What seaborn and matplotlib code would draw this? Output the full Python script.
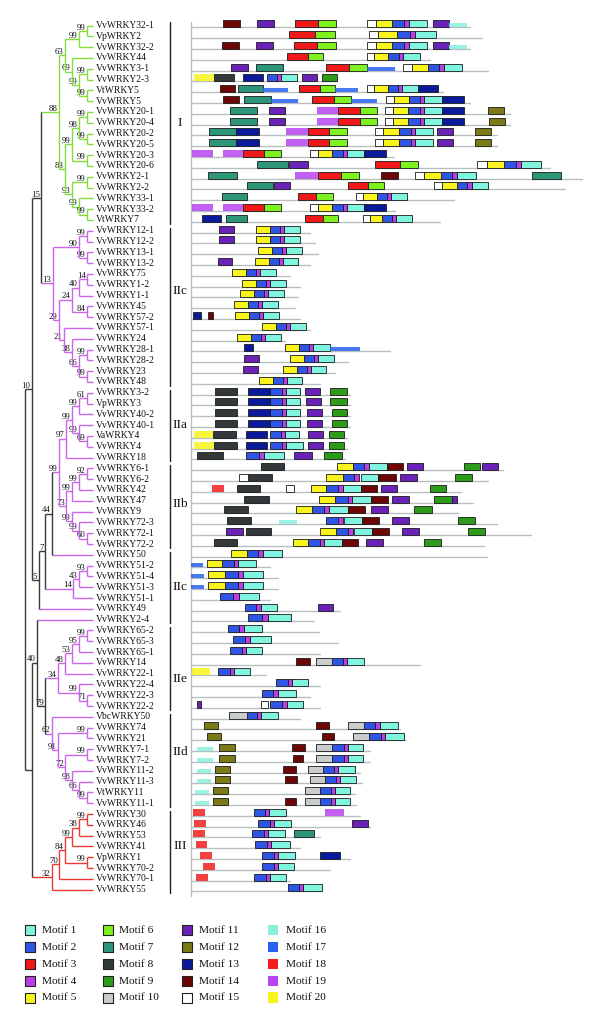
import matplotlib
matplotlib.use("Agg")
import matplotlib.pyplot as plt
import seaborn as sns
import numpy as np

# ---------------- data ----------------
GENES = ["VvWRKY32-1", "VpWRKY2", "VvWRKY32-2", "VvWRKY44", "VvWRKY3-1", "VvWRKY2-3", "VtWRKY5", "VvWRKY5",
         "VvWRKY20-1", "VvWRKY20-4", "VvWRKY20-2", "VvWRKY20-5", "VvWRKY20-3", "VvWRKY20-6", "VvWRKY2-1",
         "VvWRKY2-2", "VvWRKY33-1", "VvWRKY33-2", "VtWRKY7",
         "VvWRKY12-1", "VvWRKY12-2", "VvWRKY13-1", "VvWRKY13-2", "VvWRKY75", "VvWRKY1-2", "VvWRKY1-1",
         "VvWRKY45", "VvWRKY57-2", "VvWRKY57-1", "VvWRKY24", "VvWRKY28-1", "VvWRKY28-2", "VvWRKY23", "VvWRKY48",
         "VvWRKY3-2", "VpWRKY3", "VvWRKY40-2", "VvWRKY40-1", "VaWRKY4", "VvWRKY4", "VvWRKY18",
         "VvWRKY6-1", "VvWRKY6-2", "VvWRKY42", "VvWRKY47", "VvWRKY9", "VvWRKY72-3", "VvWRKY72-1", "VvWRKY72-2",
         "VvWRKY50", "VvWRKY51-2", "VvWRKY51-4", "VvWRKY51-3", "VvWRKY51-1", "VvWRKY49", "VvWRKY2-4",
         "VvWRKY65-2", "VvWRKY65-3", "VvWRKY65-1", "VvWRKY14", "VvWRKY22-1", "VvWRKY22-4", "VvWRKY22-3", "VvWRKY22-2",
         "VbcWRKY50", "VvWRKY74", "VvWRKY21", "VvWRKY7-1", "VvWRKY7-2", "VvWRKY11-2", "VvWRKY11-3", "VtWRKY11",
         "VvWRKY11-1",
         "VvWRKY30", "VvWRKY46", "VvWRKY53", "VvWRKY41", "VpWRKY1", "VvWRKY70-2", "VvWRKY70-1", "VvWRKY55"]

GROUP = ["I"] * 19 + ["II"] * 54 + ["III"] * 8

LENGTHS = [558, 582, 558, 478, 594, 292, 504, 558, 638, 638, 612, 612, 406, 718, 782, 748, 526, 408, 498,
           238, 248, 254, 238, 198, 218, 214, 208, 218, 238, 188, 398, 314, 288, 258,
           318, 318, 318, 318, 312, 312, 308,
           624, 594, 540, 564, 534, 612, 680, 586,
           592, 158, 174, 174, 158, 298, 246,
           256, 294, 258, 458, 150, 258, 238, 258,
           218, 418, 430, 358, 358, 338, 342, 328, 330,
           338, 358, 258, 218, 318, 278, 198, 262]

MOTIFS = [
    [(14, 64, 98), (11, 132, 166), (3, 208, 254), (6, 254, 290), (15, 352, 370), (5, 370, 402), (2, 402, 426), (4, 426, 436), (1, 436, 472), (11, 484, 516), (16, 516, 552)],
    [(3, 196, 248), (6, 248, 288), (15, 356, 374), (5, 374, 412), (2, 412, 438), (4, 438, 448), (1, 448, 490)],
    [(14, 62, 96), (11, 130, 164), (3, 206, 252), (6, 252, 290), (15, 352, 370), (5, 370, 402), (2, 402, 426), (4, 426, 436), (1, 436, 472), (11, 484, 516), (16, 516, 552)],
    [(3, 192, 234), (6, 234, 264), (15, 352, 366), (5, 366, 394), (2, 394, 416), (4, 416, 424), (1, 424, 458)],
    [(11, 80, 114), (7, 130, 184), (3, 270, 316), (6, 316, 352), (17, 352, 408), (15, 424, 442), (5, 442, 474), (2, 474, 496), (4, 496, 506), (1, 506, 542)],
    [(20, 6, 46), (8, 46, 86), (13, 104, 144), (2, 152, 172), (4, 172, 180), (1, 180, 212), (11, 222, 252), (9, 262, 292)],
    [(14, 58, 88), (7, 94, 144), (17, 144, 194), (3, 216, 258), (6, 258, 288), (17, 288, 334), (15, 352, 366), (5, 366, 394), (2, 394, 414), (4, 414, 422), (1, 422, 454), (13, 454, 494)],
    [(14, 64, 96), (7, 106, 160), (17, 160, 214), (3, 242, 286), (6, 286, 320), (17, 320, 372), (15, 390, 406), (5, 406, 436), (2, 436, 458), (4, 458, 466), (1, 466, 502), (13, 502, 546)],
    [(7, 78, 132), (11, 156, 188), (19, 252, 294), (3, 294, 338), (6, 338, 372), (15, 388, 404), (5, 404, 434), (2, 434, 458), (4, 458, 466), (1, 466, 502), (13, 502, 546), (12, 594, 626)],
    [(7, 78, 132), (11, 156, 188), (19, 252, 294), (3, 294, 338), (6, 338, 372), (15, 388, 404), (5, 404, 434), (2, 434, 458), (4, 458, 466), (1, 466, 502), (13, 502, 546), (12, 596, 628)],
    [(7, 36, 90), (13, 90, 136), (19, 190, 234), (3, 234, 276), (6, 276, 312), (15, 368, 384), (5, 384, 416), (2, 416, 440), (4, 440, 448), (1, 448, 484), (11, 492, 524), (12, 568, 600)],
    [(7, 36, 90), (13, 90, 136), (19, 190, 234), (3, 234, 276), (6, 276, 312), (15, 368, 384), (5, 384, 416), (2, 416, 440), (4, 440, 448), (1, 448, 484), (11, 492, 524), (12, 568, 600)],
    [(19, 2, 44), (19, 64, 104), (3, 104, 146), (6, 146, 180), (15, 238, 254), (5, 254, 282), (2, 282, 304), (4, 304, 312), (1, 312, 346), (13, 346, 390)],
    [(7, 132, 194), (11, 196, 234), (3, 368, 418), (6, 418, 454), (15, 572, 592), (5, 592, 626), (2, 626, 650), (4, 650, 660), (1, 660, 700)],
    [(7, 34, 92), (19, 208, 254), (3, 254, 300), (6, 300, 336), (14, 380, 414), (15, 448, 466), (5, 466, 500), (2, 500, 522), (4, 522, 532), (1, 532, 570), (7, 682, 740)],
    [(7, 112, 164), (11, 166, 198), (3, 314, 354), (6, 354, 386), (15, 486, 502), (5, 502, 532), (2, 532, 552), (4, 552, 562), (1, 562, 594)],
    [(7, 62, 112), (3, 214, 250), (6, 250, 284), (15, 330, 344), (5, 344, 372), (2, 372, 392), (4, 392, 400), (1, 400, 432)],
    [(19, 2, 44), (19, 64, 104), (3, 104, 146), (6, 146, 180), (15, 238, 254), (5, 254, 282), (2, 282, 304), (4, 304, 312), (1, 312, 346), (13, 346, 390)],
    [(13, 22, 60), (7, 70, 112), (3, 228, 264), (6, 264, 294), (15, 344, 358), (5, 358, 382), (2, 382, 402), (4, 402, 410), (1, 410, 442)],
    # IIc
    [(11, 56, 86), (5, 130, 158), (2, 158, 178), (4, 178, 186), (1, 186, 218)],
    [(11, 56, 86), (5, 130, 158), (2, 158, 178), (4, 178, 186), (1, 186, 218)],
    [(5, 134, 162), (2, 162, 182), (4, 182, 190), (1, 190, 222)],
    [(11, 54, 82), (5, 128, 156), (2, 156, 176), (4, 176, 184), (1, 184, 214)],
    [(5, 82, 110), (2, 110, 130), (4, 130, 138), (1, 138, 170)],
    [(5, 102, 130), (2, 130, 150), (4, 150, 158), (1, 158, 190)],
    [(5, 98, 126), (2, 126, 146), (4, 146, 154), (1, 154, 186)],
    [(5, 86, 114), (2, 114, 134), (4, 134, 142), (1, 142, 174)],
    [(13, 4, 20), (14, 34, 44), (5, 88, 116), (2, 116, 136), (4, 136, 144), (1, 144, 176)],
    [(5, 142, 170), (2, 170, 190), (4, 190, 198), (1, 198, 230)],
    [(5, 92, 120), (2, 120, 140), (4, 140, 148), (1, 148, 180)],
    [(13, 106, 124), (5, 188, 216), (2, 216, 236), (4, 236, 244), (1, 244, 278), (17, 278, 338)],
    [(11, 106, 136), (5, 198, 226), (2, 226, 246), (4, 246, 254), (1, 254, 286)],
    [(11, 104, 134), (5, 184, 212), (2, 212, 232), (4, 232, 240), (1, 240, 270)],
    [(5, 136, 164), (2, 164, 184), (4, 184, 192), (1, 192, 222)],
    # IIa
    [(8, 48, 92), (13, 114, 158), (2, 158, 182), (4, 182, 190), (1, 190, 218), (11, 228, 258), (9, 278, 312)],
    [(8, 48, 92), (13, 114, 158), (2, 158, 182), (4, 182, 190), (1, 190, 218), (11, 230, 260), (9, 278, 312)],
    [(8, 48, 92), (13, 114, 158), (2, 158, 182), (4, 182, 190), (1, 190, 218), (11, 232, 262), (9, 282, 312)],
    [(8, 48, 92), (13, 114, 158), (2, 158, 182), (4, 182, 190), (1, 190, 218), (11, 232, 262), (9, 282, 312)],
    [(20, 6, 44), (8, 44, 90), (13, 110, 152), (2, 158, 180), (4, 180, 188), (1, 188, 216), (11, 234, 264), (9, 276, 306)],
    [(20, 6, 46), (8, 46, 92), (13, 110, 152), (2, 158, 182), (4, 182, 190), (1, 190, 224), (11, 234, 264), (9, 276, 306)],
    [(8, 12, 64), (2, 110, 136), (4, 136, 146), (1, 146, 186), (11, 206, 242), (9, 266, 302)],
    # IIb
    [(8, 140, 186), (5, 292, 324), (2, 324, 346), (4, 346, 356), (1, 356, 392), (14, 392, 424), (11, 432, 464), (9, 546, 578), (11, 582, 614)],
    [(15, 96, 114), (8, 114, 162), (5, 270, 304), (2, 304, 326), (4, 326, 336), (1, 340, 374), (14, 374, 410), (11, 418, 452), (9, 528, 562)],
    [(18, 42, 66), (8, 92, 138), (15, 190, 206), (5, 240, 270), (2, 270, 294), (4, 294, 304), (1, 304, 340), (14, 340, 372), (11, 380, 412), (9, 478, 510)],
    [(8, 106, 156), (5, 256, 288), (2, 288, 314), (4, 314, 322), (1, 322, 360), (14, 360, 394), (11, 402, 436), (9, 486, 522), (11, 522, 532)],
    [(8, 66, 114), (5, 210, 242), (2, 242, 266), (4, 266, 276), (1, 276, 314), (14, 314, 348), (11, 360, 394), (9, 446, 482)],
    [(8, 72, 120), (16, 176, 212), (2, 270, 294), (4, 294, 304), (1, 306, 342), (14, 342, 376), (11, 402, 436), (9, 534, 568)],
    [(11, 70, 104), (8, 110, 160), (5, 258, 290), (2, 290, 314), (4, 314, 324), (1, 326, 362), (14, 362, 396), (11, 422, 456), (9, 554, 588)],
    [(8, 46, 92), (5, 204, 234), (2, 234, 258), (4, 258, 266), (1, 266, 302), (14, 302, 334), (11, 350, 384), (9, 466, 500)],
    # IIc (second)
    [(5, 80, 112), (2, 112, 134), (4, 134, 144), (1, 144, 182)],
    [(17, 0, 24), (5, 32, 62), (2, 62, 86), (4, 86, 94), (1, 94, 130)],
    [(17, 0, 26), (5, 34, 68), (2, 68, 94), (4, 94, 104), (1, 104, 144)],
    [(17, 0, 26), (5, 34, 68), (2, 68, 94), (4, 94, 104), (1, 104, 144)],
    [(2, 58, 84), (4, 84, 96), (1, 96, 136)],
    [(2, 108, 130), (4, 130, 140), (1, 140, 172), (11, 254, 284)],
    [(2, 114, 142), (4, 142, 154), (1, 154, 200)],
    # IIe
    [(2, 74, 96), (4, 96, 106), (1, 106, 142)],
    [(2, 84, 108), (4, 108, 118), (1, 118, 160)],
    [(2, 78, 102), (4, 102, 110), (1, 110, 142)],
    [(14, 210, 238), (10, 250, 282), (2, 282, 304), (4, 304, 312), (1, 312, 346)],
    [(20, 2, 38), (2, 54, 78), (4, 78, 86), (1, 86, 118)],
    [(2, 170, 194), (4, 194, 202), (1, 202, 234)],
    [(2, 142, 164), (4, 164, 174), (1, 174, 210)],
    [(11, 12, 20), (15, 140, 154), (2, 158, 182), (4, 182, 192), (1, 192, 224)],
    # IId
    [(10, 76, 112), (2, 112, 132), (4, 132, 140), (1, 140, 174)],
    [(12, 26, 54), (14, 250, 276), (10, 314, 346), (2, 346, 368), (4, 368, 378), (1, 378, 414)],
    [(12, 32, 60), (14, 262, 286), (10, 324, 356), (2, 356, 380), (4, 380, 388), (1, 388, 426)],
    [(16, 12, 44), (12, 56, 88), (14, 202, 228), (10, 250, 282), (2, 282, 306), (4, 306, 314), (1, 314, 344)],
    [(16, 12, 44), (12, 56, 88), (14, 204, 224), (10, 250, 282), (2, 282, 306), (4, 306, 314), (1, 314, 344)],
    [(16, 12, 40), (12, 48, 78), (14, 184, 210), (10, 234, 264), (2, 264, 286), (4, 286, 294), (1, 294, 328)],
    [(16, 12, 40), (12, 48, 78), (14, 188, 212), (10, 238, 268), (2, 268, 290), (4, 290, 298), (1, 298, 330)],
    [(16, 8, 36), (12, 44, 74), (10, 228, 258), (2, 258, 280), (4, 280, 288), (1, 288, 318)],
    [(16, 8, 36), (12, 44, 74), (14, 188, 210), (10, 228, 258), (2, 258, 280), (4, 280, 288), (1, 288, 318)],
    # III
    [(18, 4, 28), (2, 126, 148), (4, 148, 156), (1, 156, 190), (19, 268, 306)],
    [(18, 6, 30), (2, 134, 158), (4, 158, 166), (1, 166, 200), (11, 322, 354)],
    [(18, 4, 28), (2, 122, 146), (4, 146, 154), (1, 154, 188), (7, 206, 246)],
    [(18, 10, 32), (2, 128, 152), (4, 152, 160), (1, 160, 198)],
    [(18, 18, 42), (2, 142, 166), (4, 166, 174), (1, 174, 208), (13, 258, 298)],
    [(18, 24, 48), (2, 142, 166), (4, 166, 174), (1, 174, 206)],
    [(18, 10, 34), (2, 126, 150), (4, 150, 158), (1, 158, 190)],
    [(2, 194, 216), (4, 216, 224), (1, 224, 262)],
]

MOTIF_COLORS = {1: "#7ff5df", 2: "#2f55e6", 3: "#f01818", 4: "#bb3ee8", 5: "#f8f41c",
                6: "#7ef21e", 7: "#2e9678", 8: "#33393b", 9: "#2e9a1a", 10: "#c8cccc",
                11: "#6a22b8", 12: "#7a7a16", 13: "#0b1a9a", 14: "#6e0606", 15: "#ffffff",
                16: "#8af0dc", 17: "#2860f0", 18: "#f21e1e", 19: "#b844f0", 20: "#f6f41a"}

SUBGROUPS = ["I", "IIc", "IIa", "IIb", "IIc", "IIe", "IId", "III"]
SUBGROUP_FIRST = [0, 19, 34, 41, 49, 56, 64, 73]
SUBGROUP_LAST = [18, 33, 40, 48, 55, 63, 72, 80]
SUBGROUP_LABEL_ROW = [9.0, 24.6, 37.0, 44.3, 52.0, 60.5, 67.3, 76.0]

GROUP_COLORS = {"I": "#80dd3c", "II": "#c865ea", "III": "#ea3a32"}
BACKBONE = "#3a3a3a"


class N:
    def __init__(self, bs, depth, *children, clade=False):
        self.bs, self.depth, self.children, self.clade = bs, depth, list(children), clade


TIP = 68
gI = N(88, 34,
       N(63, 40,
         N(99, 54, N(99, 62, "VvWRKY32-1", "VpWRKY2"), "VvWRKY32-2"),
         N(69, 47, "VvWRKY44",
           N(99, 54, N(99, 62, "VvWRKY3-1", "VvWRKY2-3"), N(99, 62, "VtWRKY5", "VvWRKY5")))),
       N(83, 40,
         N(99, 47, N(98, 54, N(99, 62, "VvWRKY20-1", "VvWRKY20-4"), N(99, 62, "VvWRKY20-2", "VvWRKY20-5")),
           N(99, 62, "VvWRKY20-3", "VvWRKY20-6")),
         N(93, 47, N(99, 62, "VvWRKY2-1", "VvWRKY2-2"),
           N(99, 54, "VvWRKY33-1", N(99, 62, "VvWRKY33-2", "VtWRKY7")))),
       clade=True)
c13 = N(13, 27.5,
        N(90, 54, N(99, 62, "VvWRKY12-1", "VvWRKY12-2"), N(99, 62, "VvWRKY13-1", "VvWRKY13-2")),
        N(29, 34,
          N(24, 47, N(40, 54, N(14, 62, "VvWRKY75", "VvWRKY1-2"), "VvWRKY1-1"), N(84, 62, "VvWRKY45", "VvWRKY57-2")),
          N(21, 39, "VvWRKY57-1",
            N(38, 47, "VvWRKY24",
              N(66, 54, N(99, 62, "VvWRKY28-1", "VvWRKY28-2"), N(99, 62, "VvWRKY23", "VvWRKY48"))))),
        clade=True)
cIIab = N(99, 34,
          N(97, 41,
            N(99, 47, N(99, 54, N(61, 62, "VvWRKY3-2", "VpWRKY3"), "VvWRKY40-2"),
              N(99, 54, "VvWRKY40-1", N(69, 62, "VaWRKY4", "VvWRKY4"))),
            "VvWRKY18"),
          N(73, 41,
            N(99, 47, N(99, 54, N(92, 62, "VvWRKY6-1", "VvWRKY6-2"), "VvWRKY42"), "VvWRKY47"),
            N(99, 47, "VvWRKY9", N(99, 54, "VvWRKY72-3", N(60, 62, "VvWRKY72-1", "VvWRKY72-2")))),
          clade=True)
n44 = N(44, 26.5, cIIab, "VvWRKY50")
n14 = N(14, 48, N(43, 54, N(93, 62, "VvWRKY51-2", "VvWRKY51-4"), "VvWRKY51-3"), "VvWRKY51-1", clade=True)
n7 = N(7, 20, n44, n14)
n5 = N(5, 13.5, n7, "VvWRKY49")
n15 = N(15, 16, gI, c13)
n10 = N(10, 6.5, n15, n5)
c34 = N(34, 33,
        N(48, 40, N(53, 47, N(95, 54, N(99, 62, "VvWRKY65-2", "VvWRKY65-3"), "VvWRKY65-1"), "VvWRKY14"),
          "VvWRKY22-1"),
        N(99, 54, "VvWRKY22-4", N(71, 62, "VvWRKY22-3", "VvWRKY22-2")),
        clade=True)
c62 = N(62, 26.5, "VbcWRKY50",
        N(91, 33, N(99, 62, "VvWRKY74", "VvWRKY21"),
          N(72, 40, N(99, 62, "VvWRKY7-1", "VvWRKY7-2"),
            N(98, 47, "VvWRKY11-2", N(66, 54, "VvWRKY11-3", N(99, 62, "VtWRKY11", "VvWRKY11-1"))))),
        clade=True)
n79 = N(79, 20, c34, c62)
n40 = N(40, 11.5, "VvWRKY2-4", n79)
cIII = N(32, 26.5,
         N(70, 34,
           N(84, 40, N(99, 47, N(38, 54, N(99, 62, "VvWRKY30", "VvWRKY46"), "VvWRKY53"), "VvWRKY41"),
             N(99, 62, "VpWRKY1", "VvWRKY70-2")),
           "VvWRKY70-1"),
         "VvWRKY55", clade=True)
nX = N(None, 6.5, n40, cIII)
ROOT = N(None, 0, n10, nX)

# ---------------- figure ----------------
sns.set_theme(style="white")
plt.rcParams["font.family"] = ["Liberation Serif", "DejaVu Serif"]

W, H = 600, 1028
fig = plt.figure(figsize=(W / 100, H / 100), dpi=100)
fig.patch.set_facecolor("white")

TOP_PX, BOT_PX = 15, 900
ROW0, DROW = 25.6, 10.8
ylim = ((BOT_PX - ROW0) / DROW, (TOP_PX - ROW0) / DROW)


def add_px_axes(x0, x1):
    return fig.add_axes([x0 / W, (H - BOT_PX) / H, (x1 - x0) / W, (BOT_PX - TOP_PX) / H])


# tree axes: 1 depth unit = 1 px, root at px 25
tax = add_px_axes(0, 190)
tax.set_xlim(-25, 165)
tax.set_ylim(*ylim)
tax.axis("off")

row_of = {g: i for i, g in enumerate(GENES)}


def color_of(node, inclade, grp):
    return GROUP_COLORS[grp] if inclade else BACKBONE


def leaves(node):
    if isinstance(node, str):
        return [node]
    out = []
    for c in node.children:
        out += leaves(c)
    return out


def draw(node, inclade=False):
    """returns (y, depth) of node"""
    if isinstance(node, str):
        return row_of[node], TIP
    inclade = inclade or node.clade
    grp = GROUP[row_of[leaves(node)[0]]]
    col = color_of(node, inclade, grp)
    ys = []
    for ch in node.children:
        cy, cd = draw(ch, inclade)
        if isinstance(ch, str):
            ccol = GROUP_COLORS[GROUP[row_of[ch]]]
        else:
            ccol = color_of(ch, inclade or ch.clade, GROUP[row_of[leaves(ch)[0]]])
        tax.plot([node.depth, cd], [cy, cy], color=ccol, lw=1.0, solid_capstyle="butt", zorder=2)
        ys.append(cy)
    tax.plot([node.depth, node.depth], [ys[0], ys[-1]], color=col, lw=1.0, solid_capstyle="butt", zorder=3)
    y = (ys[0] + ys[-1]) / 2
    if node.bs is not None:
        tax.text(node.depth - 1.2, y - 0.3, str(node.bs), ha="right", va="center", fontsize=6.3, color="#111111")
    return y, node.depth


draw(ROOT)

for i, g in enumerate(GENES):
    tax.text(TIP + 3, i, g, ha="left", va="center", fontsize=6.9, color="#111111")

# subgroup brackets
for name, a, b, lr in zip(SUBGROUPS, SUBGROUP_FIRST, SUBGROUP_LAST, SUBGROUP_LABEL_ROW):
    tax.plot([145, 145], [a - 0.3, b + 0.35], color="#222222", lw=1.0)
    tax.text(155, lr, name, ha="center", va="center", fontsize=9.5, color="#111111")

# motif axes: aa units, 2 aa per px, aa 0 at px 191
max_ = add_px_axes(185, 595)
max_.set_xlim(-12, 808)
max_.set_ylim(*ylim)
max_.axis("off")

LINE_OFF = 0.16
max_.plot([0, 0], [-0.3, 80.6], color="#b9bfc0", lw=1.0, zorder=1)
for i, L in enumerate(LENGTHS):
    max_.plot([0, L], [i + LINE_OFF, i + LINE_OFF], color="#b9bfc0", lw=1.0, zorder=1)

FULL_H = 0.64
for mid in range(1, 21):
    ys, lefts, widths = [], [], []
    for i, mlist in enumerate(MOTIFS):
        for (m, s, e) in mlist:
            if m == mid:
                ys.append(i)
                lefts.append(s)
                widths.append(e - s)
    if not ys:
        continue
    h = 0.36 if mid in (16, 17) else FULL_H
    centers = np.array(ys) + LINE_OFF - h / 2
    if mid >= 16:
        max_.barh(centers, widths, left=lefts, height=h, color=MOTIF_COLORS[mid],
                  edgecolor="none", alpha=0.85, zorder=3)
    else:
        max_.barh(centers, widths, left=lefts, height=h, color=MOTIF_COLORS[mid],
                  edgecolor="#1a1a1a", linewidth=0.6, zorder=3)

# legend
lax = fig.add_axes([0, 0, 1, 1], zorder=-1)
lax.set_xlim(0, W)
lax.set_ylim(H, 0)
lax.axis("off")
col_marker_x = [30, 108, 187, 273]
col_text_x = [42, 119, 199, 286]
row_y = [930, 947, 964, 981, 997.5]
for mid in range(1, 21):
    c, r = (mid - 1) // 5, (mid - 1) % 5
    if mid >= 16:
        lax.scatter([col_marker_x[c]], [row_y[r]], marker="s", s=62, color=MOTIF_COLORS[mid], edgecolors="none")
    else:
        lax.scatter([col_marker_x[c]], [row_y[r]], marker="s", s=50, color=MOTIF_COLORS[mid],
                    edgecolors="#222222", linewidths=0.8)
    lax.text(col_text_x[c], row_y[r] + 0.5, f"Motif {mid}", ha="left", va="center", fontsize=8.2, color="#111111")

fig.savefig("out.png", dpi=100, facecolor="white")
